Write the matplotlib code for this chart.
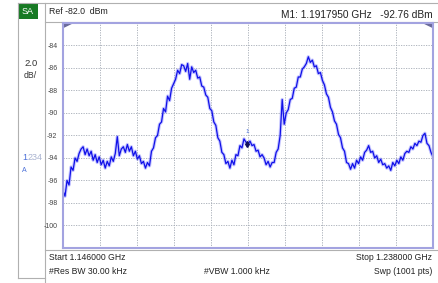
import numpy as np
import matplotlib
matplotlib.use("Agg")
import matplotlib.pyplot as plt
from matplotlib.patches import Rectangle, Polygon

plt.rcParams['font.family'] = ['Liberation Sans', 'DejaVu Sans']

# sweep settings
start_ghz = 1.146
stop_ghz = 1.238
ref_dbm = -82.0
db_per_div = 2.0
n_div = 10

# trace levels (dBm), read every 0.5 MHz from 1.146 to 1.238 GHz
levels = [
    -96.9, -97.4, -96.0, -96.4, -94.8, -95.1, -94.0, -94.3, -93.6, -93.2,
    -93.0, -93.7, -93.2, -93.8, -93.4, -94.2, -93.7, -94.4, -93.9, -94.6,
    -94.2, -94.9, -94.3, -94.7, -93.9, -94.3, -93.6, -92.1, -93.8, -93.2,
    -93.0, -93.5, -92.8, -93.4, -93.0, -93.8, -93.4, -94.1, -93.8, -94.5,
    -94.3, -94.9, -94.4, -94.7, -93.4, -93.1, -92.2, -92.0, -91.0, -90.8,
    -89.6, -89.9, -88.5, -88.9, -87.8, -87.4, -87.0, -86.2, -86.5, -85.7,
    -85.8, -86.3, -85.6, -87.0, -85.9, -86.4, -86.2, -86.9, -86.8, -87.6,
    -87.7, -88.4, -88.6, -89.6, -89.8, -90.8, -91.1, -92.2, -92.5, -93.5,
    -93.7, -94.5, -94.3, -94.9, -94.2, -94.6, -93.7, -93.8, -92.9, -93.1,
    -92.3, -92.6, -92.76, -92.5, -92.9, -92.8, -93.4, -93.3, -93.9, -93.7,
    -94.0, -94.6, -94.3, -94.8, -94.4, -94.4, -93.5, -93.2, -92.0, -88.8,
    -91.0, -90.0, -89.7, -88.8, -88.7, -87.8, -87.7, -86.8, -86.8, -86.1,
    -85.9, -85.6, -85.0, -85.5, -85.3, -85.9, -85.8, -86.5, -86.4, -87.1,
    -87.5, -88.3, -88.6, -89.5, -89.9, -90.7, -91.0, -91.9, -92.2, -93.1,
    -93.4, -94.4, -94.5, -95.0, -94.5, -94.9, -94.2, -94.5, -93.9, -94.2,
    -93.5, -93.3, -92.9, -93.5, -93.4, -94.0, -93.8, -94.4, -94.1, -94.6,
    -94.5, -94.9, -94.7, -95.1, -94.4, -94.7, -94.2, -94.5, -93.9, -94.2,
    -93.6, -93.4, -93.5, -93.0, -93.2, -92.7, -92.9, -92.5, -92.6, -92.0,
    -91.8, -92.7, -92.9, -93.5, -93.9,
]
freqs = np.linspace(start_ghz, stop_ghz, len(levels))

marker_freq = 1.1917950
marker_level = -92.76

ytick_vals = [-84, -86, -88, -90, -92, -94, -96, -98, -100]

fig = plt.figure(figsize=(4.39, 2.83), dpi=100)

# background canvas in pixel coordinates
bg = fig.add_axes([0, 0, 1, 1])
bg.set_xlim(0, 439)
bg.set_ylim(283, 0)
bg.axis('off')

frame_col = '#b0b0b0'
bg.plot([18, 18], [3, 278], color=frame_col, lw=0.8)
bg.plot([45, 45], [3, 283], color=frame_col, lw=0.8)
bg.plot([18, 45], [278, 278], color=frame_col, lw=0.8)
bg.plot([18, 439], [3, 3], color=frame_col, lw=0.8)
bg.plot([45, 439], [22, 22], color=frame_col, lw=0.8)
bg.plot([45, 439], [250, 250], color=frame_col, lw=0.8)
bg.add_patch(Rectangle((18, 3), 20, 16, facecolor='#177a24', edgecolor='none'))
bg.text(28, 11.5, 'SA', color='white', fontsize=6.5, ha='center', va='center')

bg.text(49, 12, 'Ref -82.0  dBm', fontsize=6.3, color='#222222', va='center')
bg.text(433, 15, 'M1: 1.1917950 GHz   -92.76 dBm', fontsize=7.3,
        color='#222222', va='center', ha='right')

bg.text(31, 63, '2.0', fontsize=6.8, color='#333333', ha='center', va='center')
bg.text(30, 75, 'dB/', fontsize=6.3, color='#333333', ha='center', va='center')
bg.text(22, 158, '1', fontsize=6.5, color='#4a6fd8', va='center')
bg.text(27.5, 158, '234', fontsize=6.5, color='#a9b3d0', va='center')
bg.text(22, 170, 'A', fontsize=5, color='#4a6fd8', va='center')

bg.text(49, 258, 'Start 1.146000 GHz', fontsize=6.2, color='#222222', va='center')
bg.text(432, 258, 'Stop 1.238000 GHz', fontsize=6.2, color='#222222',
        va='center', ha='right')
bg.text(49, 271, '#Res BW 30.00 kHz', fontsize=6.2, color='#222222', va='center')
bg.text(237, 271, '#VBW 1.000 kHz', fontsize=6.2, color='#222222',
        va='center', ha='center')
bg.text(432, 271, 'Swp (1001 pts)', fontsize=6.2, color='#222222',
        va='center', ha='right')

# trace area
ax = fig.add_axes([63 / 439, 35 / 283, 370 / 439, 225 / 283])
ax.set_xlim(start_ghz, stop_ghz)
ax.set_ylim(ref_dbm - n_div * db_per_div, ref_dbm)
ax.set_xticks(np.linspace(start_ghz, stop_ghz, n_div + 1)[1:-1])
ax.set_yticks(ytick_vals)
ax.set_yticklabels([str(v) for v in ytick_vals])
ax.tick_params(axis='x', length=0, labelbottom=False)
ax.tick_params(axis='y', length=0, labelsize=5, labelcolor='#444444', pad=4)
ax.grid(True, color='#a4aab4', lw=0.6, ls=(0, (1.5, 1.5)))
for s in ax.spines.values():
    s.set_color('#a3a3e0')
    s.set_linewidth(1.5)

# soft halo then the trace itself
ax.plot(freqs, levels, color='#5a5aff', lw=2.4, alpha=0.35)
ax.plot(freqs, levels, color='#1010e8', lw=0.9)
ax.plot([marker_freq], [marker_level], marker='d', ms=3, color='#101060')
ax.annotate('1', (marker_freq, marker_level), xytext=(0, 8),
            textcoords='offset points', fontsize=4.5, color='#4a6fd8', ha='center')

# corner flags
ax.add_patch(Polygon([[0, 1], [0.025, 1], [0, 0.98]], closed=True,
                     transform=ax.transAxes, color='#6a6a9a', clip_on=False))
ax.add_patch(Polygon([[1, 1], [0.975, 1], [1, 0.98]], closed=True,
                     transform=ax.transAxes, color='#6a6a9a', clip_on=False))

fig.savefig('out.png', dpi=100)
